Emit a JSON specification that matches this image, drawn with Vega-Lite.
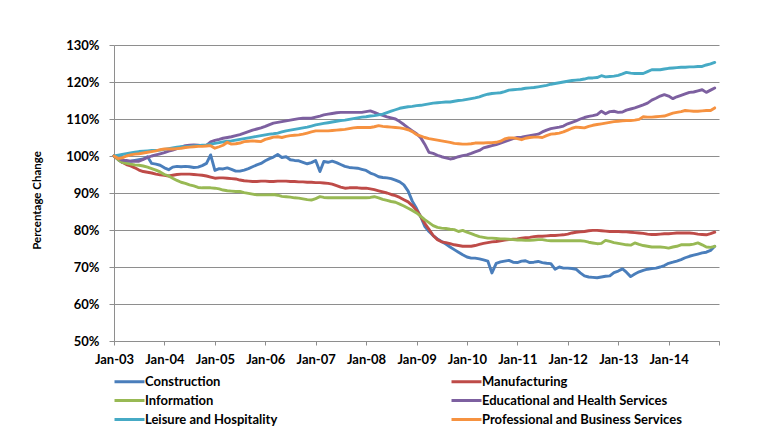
{
"$schema": "https://vega.github.io/schema/vega-lite/v6.json",
"width": 605, "height": 296,
"autosize": {"type": "none"},
"padding": {"left": 114, "top": 45, "right": 46, "bottom": 95},
"background": "white",
"config": {"view": {"stroke": null}, "font": "Lato"},
"data": {"format": {"parse": {"d": "date:'%Y-%m'"}}, "values": [
{"d":"2003-01","C":100,"M":100,"I":100,"E":100,"L":100,"P":100},
{"d":"2003-02","C":99.0,"M":99.1,"I":99.0,"E":99.4,"L":100.2,"P":99.3},
{"d":"2003-03","C":98.3,"M":98.3,"I":98.3,"E":98.9,"L":100.4,"P":99.5},
{"d":"2003-04","C":98.5,"M":97.7,"I":98.0,"E":98.8,"L":100.6,"P":100.0},
{"d":"2003-05","C":98.6,"M":97.3,"I":97.8,"E":98.6,"L":100.8,"P":100.3},
{"d":"2003-06","C":98.8,"M":96.8,"I":97.6,"E":98.6,"L":101.0,"P":100.5},
{"d":"2003-07","C":99.0,"M":96.2,"I":97.5,"E":98.6,"L":101.2,"P":100.6},
{"d":"2003-08","C":99.2,"M":95.8,"I":97.3,"E":99.1,"L":101.3,"P":100.8},
{"d":"2003-09","C":99.8,"M":95.6,"I":97.0,"E":99.6,"L":101.4,"P":101.0},
{"d":"2003-10","C":98.0,"M":95.4,"I":96.6,"E":100.0,"L":101.5,"P":101.2},
{"d":"2003-11","C":97.8,"M":95.1,"I":96.2,"E":100.3,"L":101.5,"P":101.4},
{"d":"2003-12","C":97.5,"M":94.9,"I":95.7,"E":100.6,"L":101.6,"P":101.7},
{"d":"2004-01","C":96.8,"M":94.8,"I":95.0,"E":100.9,"L":101.8,"P":101.9},
{"d":"2004-02","C":96.3,"M":94.6,"I":94.6,"E":101.3,"L":102.0,"P":101.9},
{"d":"2004-03","C":97.0,"M":94.8,"I":94.0,"E":101.6,"L":102.2,"P":101.9},
{"d":"2004-04","C":97.2,"M":95.0,"I":93.4,"E":102.0,"L":102.4,"P":102.0},
{"d":"2004-05","C":97.1,"M":95.1,"I":92.9,"E":102.4,"L":102.5,"P":102.1},
{"d":"2004-06","C":97.2,"M":95.1,"I":92.6,"E":102.8,"L":102.5,"P":102.3},
{"d":"2004-07","C":97.1,"M":95.1,"I":92.2,"E":102.9,"L":102.6,"P":102.4},
{"d":"2004-08","C":96.9,"M":95.0,"I":91.9,"E":103.0,"L":102.7,"P":102.5},
{"d":"2004-09","C":97.0,"M":94.9,"I":91.5,"E":102.9,"L":102.8,"P":102.6},
{"d":"2004-10","C":97.4,"M":94.8,"I":91.4,"E":102.8,"L":102.9,"P":102.6},
{"d":"2004-11","C":98.0,"M":94.6,"I":91.4,"E":102.9,"L":103.0,"P":102.7},
{"d":"2004-12","C":100.3,"M":94.3,"I":91.4,"E":103.8,"L":103.2,"P":102.8},
{"d":"2005-01","C":96.1,"M":94.0,"I":91.3,"E":104.2,"L":103.4,"P":102.1},
{"d":"2005-02","C":96.6,"M":94.1,"I":91.1,"E":104.5,"L":103.6,"P":102.5},
{"d":"2005-03","C":96.5,"M":94.1,"I":90.8,"E":104.8,"L":103.8,"P":102.9},
{"d":"2005-04","C":96.8,"M":94.0,"I":90.6,"E":105.0,"L":104.0,"P":103.7},
{"d":"2005-05","C":96.4,"M":93.9,"I":90.5,"E":105.2,"L":104.1,"P":103.2},
{"d":"2005-06","C":95.9,"M":93.8,"I":90.4,"E":105.5,"L":104.3,"P":103.3},
{"d":"2005-07","C":95.9,"M":93.5,"I":90.4,"E":105.8,"L":104.5,"P":103.5},
{"d":"2005-08","C":96.2,"M":93.3,"I":90.1,"E":106.2,"L":104.7,"P":103.9},
{"d":"2005-09","C":96.6,"M":93.2,"I":89.9,"E":106.6,"L":104.9,"P":104.0},
{"d":"2005-10","C":97.1,"M":93.1,"I":89.7,"E":107.0,"L":105.1,"P":104.1},
{"d":"2005-11","C":97.6,"M":93.1,"I":89.5,"E":107.3,"L":105.3,"P":104.0},
{"d":"2005-12","C":98.0,"M":93.2,"I":89.5,"E":107.6,"L":105.5,"P":103.9},
{"d":"2006-01","C":98.7,"M":93.2,"I":89.5,"E":108.0,"L":105.7,"P":104.5},
{"d":"2006-02","C":99.3,"M":93.1,"I":89.5,"E":108.5,"L":105.9,"P":104.8},
{"d":"2006-03","C":99.7,"M":93.1,"I":89.6,"E":108.9,"L":106.0,"P":105.1},
{"d":"2006-04","C":100.4,"M":93.2,"I":89.4,"E":109.1,"L":106.2,"P":105.2},
{"d":"2006-05","C":99.6,"M":93.2,"I":89.1,"E":109.3,"L":106.5,"P":105.0},
{"d":"2006-06","C":99.8,"M":93.2,"I":89.0,"E":109.5,"L":106.8,"P":105.3},
{"d":"2006-07","C":99.0,"M":93.1,"I":88.9,"E":109.7,"L":107.0,"P":105.5},
{"d":"2006-08","C":98.8,"M":93.1,"I":88.7,"E":109.9,"L":107.2,"P":105.6},
{"d":"2006-09","C":98.7,"M":93.0,"I":88.6,"E":110.1,"L":107.4,"P":105.7},
{"d":"2006-10","C":98.3,"M":93.0,"I":88.4,"E":110.2,"L":107.6,"P":105.9},
{"d":"2006-11","C":97.9,"M":92.9,"I":88.2,"E":110.2,"L":107.8,"P":106.2},
{"d":"2006-12","C":98.2,"M":92.9,"I":88.1,"E":110.2,"L":108.1,"P":106.5},
{"d":"2007-01","C":98.8,"M":92.8,"I":88.5,"E":110.5,"L":108.4,"P":106.8},
{"d":"2007-02","C":95.8,"M":92.8,"I":89.0,"E":110.8,"L":108.6,"P":106.8},
{"d":"2007-03","C":98.5,"M":92.7,"I":88.8,"E":111.1,"L":108.8,"P":106.8},
{"d":"2007-04","C":98.3,"M":92.6,"I":88.7,"E":111.3,"L":109.0,"P":106.8},
{"d":"2007-05","C":98.6,"M":92.4,"I":88.7,"E":111.5,"L":109.2,"P":106.9},
{"d":"2007-06","C":98.2,"M":92.0,"I":88.7,"E":111.7,"L":109.4,"P":107.0},
{"d":"2007-07","C":97.7,"M":91.6,"I":88.7,"E":111.8,"L":109.6,"P":107.1},
{"d":"2007-08","C":97.2,"M":91.3,"I":88.7,"E":111.8,"L":109.7,"P":107.2},
{"d":"2007-09","C":96.9,"M":91.4,"I":88.7,"E":111.8,"L":109.9,"P":107.4},
{"d":"2007-10","C":96.8,"M":91.4,"I":88.7,"E":111.8,"L":110.1,"P":107.6},
{"d":"2007-11","C":96.7,"M":91.4,"I":88.7,"E":111.8,"L":110.3,"P":107.7},
{"d":"2007-12","C":96.4,"M":91.3,"I":88.7,"E":111.8,"L":110.5,"P":107.7},
{"d":"2008-01","C":96.1,"M":91.3,"I":88.7,"E":112.0,"L":110.6,"P":107.7},
{"d":"2008-02","C":95.4,"M":91.1,"I":88.8,"E":112.2,"L":110.8,"P":107.7},
{"d":"2008-03","C":95.0,"M":90.9,"I":89.0,"E":111.8,"L":110.9,"P":107.9},
{"d":"2008-04","C":94.4,"M":90.6,"I":88.7,"E":111.3,"L":111.1,"P":108.2},
{"d":"2008-05","C":94.2,"M":90.3,"I":88.3,"E":111.0,"L":111.3,"P":108.0},
{"d":"2008-06","C":94.1,"M":90.0,"I":88.0,"E":110.6,"L":111.7,"P":107.9},
{"d":"2008-07","C":93.9,"M":89.6,"I":87.7,"E":110.3,"L":112.1,"P":107.8},
{"d":"2008-08","C":93.5,"M":89.3,"I":87.5,"E":110.0,"L":112.5,"P":107.7},
{"d":"2008-09","C":93.0,"M":88.8,"I":87.0,"E":109.3,"L":112.9,"P":107.6},
{"d":"2008-10","C":92.2,"M":88.2,"I":86.5,"E":108.5,"L":113.1,"P":107.4},
{"d":"2008-11","C":90.5,"M":87.6,"I":85.9,"E":107.6,"L":113.3,"P":107.1},
{"d":"2008-12","C":87.8,"M":86.6,"I":85.3,"E":106.8,"L":113.4,"P":106.6},
{"d":"2009-01","C":85.8,"M":85.3,"I":84.6,"E":106.0,"L":113.6,"P":105.8},
{"d":"2009-02","C":83.5,"M":83.6,"I":83.7,"E":104.9,"L":113.7,"P":105.4},
{"d":"2009-03","C":81.0,"M":81.8,"I":82.8,"E":103.2,"L":113.9,"P":105.0},
{"d":"2009-04","C":79.6,"M":80.2,"I":82.0,"E":101.0,"L":114.1,"P":104.7},
{"d":"2009-05","C":78.5,"M":78.5,"I":81.2,"E":100.7,"L":114.3,"P":104.5},
{"d":"2009-06","C":77.6,"M":77.4,"I":80.7,"E":100.2,"L":114.4,"P":104.3},
{"d":"2009-07","C":76.9,"M":76.8,"I":80.5,"E":99.8,"L":114.5,"P":104.1},
{"d":"2009-08","C":76.2,"M":76.6,"I":80.4,"E":99.5,"L":114.6,"P":103.9},
{"d":"2009-09","C":75.4,"M":76.3,"I":80.2,"E":99.2,"L":114.6,"P":103.7},
{"d":"2009-10","C":74.7,"M":76.0,"I":80.1,"E":99.4,"L":114.8,"P":103.4},
{"d":"2009-11","C":74.0,"M":75.8,"I":79.6,"E":99.8,"L":115.0,"P":103.3},
{"d":"2009-12","C":73.3,"M":75.6,"I":79.9,"E":100.1,"L":115.1,"P":103.2},
{"d":"2010-01","C":72.7,"M":75.6,"I":79.4,"E":100.3,"L":115.3,"P":103.2},
{"d":"2010-02","C":72.4,"M":75.6,"I":79.0,"E":100.7,"L":115.5,"P":103.3},
{"d":"2010-03","C":72.4,"M":75.8,"I":78.6,"E":101.1,"L":115.7,"P":103.5},
{"d":"2010-04","C":72.2,"M":76.1,"I":78.2,"E":101.5,"L":116.0,"P":103.5},
{"d":"2010-05","C":71.9,"M":76.4,"I":78.0,"E":102.2,"L":116.4,"P":103.5},
{"d":"2010-06","C":71.6,"M":76.6,"I":77.8,"E":102.5,"L":116.7,"P":103.6},
{"d":"2010-07","C":68.4,"M":76.8,"I":77.8,"E":102.8,"L":116.9,"P":103.6},
{"d":"2010-08","C":71.0,"M":76.9,"I":77.7,"E":103.1,"L":117.0,"P":103.7},
{"d":"2010-09","C":71.4,"M":77.1,"I":77.6,"E":103.5,"L":117.1,"P":104.0},
{"d":"2010-10","C":71.6,"M":77.3,"I":77.6,"E":103.9,"L":117.4,"P":104.6},
{"d":"2010-11","C":71.8,"M":77.4,"I":77.5,"E":104.3,"L":117.8,"P":104.9},
{"d":"2010-12","C":71.3,"M":77.5,"I":77.4,"E":104.7,"L":117.9,"P":104.9},
{"d":"2011-01","C":71.2,"M":77.6,"I":77.3,"E":105.0,"L":118.0,"P":104.7},
{"d":"2011-02","C":71.6,"M":77.8,"I":77.3,"E":105.1,"L":118.1,"P":104.4},
{"d":"2011-03","C":71.7,"M":77.9,"I":77.2,"E":105.3,"L":118.3,"P":104.8},
{"d":"2011-04","C":71.2,"M":78.0,"I":77.2,"E":105.5,"L":118.4,"P":105.0},
{"d":"2011-05","C":71.3,"M":78.2,"I":77.3,"E":105.7,"L":118.5,"P":105.1},
{"d":"2011-06","C":71.5,"M":78.3,"I":77.4,"E":105.9,"L":118.7,"P":105.1},
{"d":"2011-07","C":71.2,"M":78.3,"I":77.4,"E":106.5,"L":118.9,"P":105.0},
{"d":"2011-08","C":71.0,"M":78.4,"I":77.2,"E":107.0,"L":119.1,"P":105.5},
{"d":"2011-09","C":70.9,"M":78.5,"I":77.1,"E":107.4,"L":119.4,"P":105.9},
{"d":"2011-10","C":69.4,"M":78.5,"I":77.1,"E":107.6,"L":119.6,"P":106.0},
{"d":"2011-11","C":70.0,"M":78.6,"I":77.1,"E":107.8,"L":119.8,"P":106.2},
{"d":"2011-12","C":69.7,"M":78.7,"I":77.1,"E":108.1,"L":120.0,"P":106.5},
{"d":"2012-01","C":69.7,"M":78.9,"I":77.1,"E":108.7,"L":120.2,"P":107.0},
{"d":"2012-02","C":69.6,"M":79.2,"I":77.1,"E":109.1,"L":120.4,"P":107.5},
{"d":"2012-03","C":69.4,"M":79.4,"I":77.1,"E":109.5,"L":120.5,"P":107.8},
{"d":"2012-04","C":68.4,"M":79.5,"I":77.1,"E":110.0,"L":120.6,"P":107.7},
{"d":"2012-05","C":67.6,"M":79.6,"I":77.0,"E":110.4,"L":120.8,"P":107.6},
{"d":"2012-06","C":67.3,"M":79.8,"I":76.7,"E":110.7,"L":121.1,"P":108.0},
{"d":"2012-07","C":67.2,"M":79.9,"I":76.5,"E":110.9,"L":121.1,"P":108.3},
{"d":"2012-08","C":67.1,"M":79.9,"I":76.3,"E":111.2,"L":121.2,"P":108.5},
{"d":"2012-09","C":67.3,"M":79.8,"I":76.4,"E":112.1,"L":121.7,"P":108.7},
{"d":"2012-10","C":67.5,"M":79.7,"I":77.2,"E":111.4,"L":121.4,"P":108.9},
{"d":"2012-11","C":67.6,"M":79.6,"I":76.9,"E":112.0,"L":121.5,"P":109.1},
{"d":"2012-12","C":68.5,"M":79.6,"I":76.6,"E":112.1,"L":121.6,"P":109.3},
{"d":"2013-01","C":68.9,"M":79.6,"I":76.4,"E":111.8,"L":121.8,"P":109.4},
{"d":"2013-02","C":69.5,"M":79.5,"I":76.2,"E":111.9,"L":122.2,"P":109.5},
{"d":"2013-03","C":68.6,"M":79.5,"I":76.0,"E":112.4,"L":122.6,"P":109.6},
{"d":"2013-04","C":67.4,"M":79.4,"I":75.9,"E":112.7,"L":122.4,"P":109.6},
{"d":"2013-05","C":68.1,"M":79.3,"I":76.5,"E":113.0,"L":122.3,"P":109.7},
{"d":"2013-06","C":68.7,"M":79.2,"I":76.1,"E":113.4,"L":122.3,"P":109.9},
{"d":"2013-07","C":69.1,"M":79.1,"I":75.8,"E":113.8,"L":122.3,"P":110.6},
{"d":"2013-08","C":69.4,"M":78.9,"I":75.6,"E":114.3,"L":122.8,"P":110.5},
{"d":"2013-09","C":69.6,"M":78.8,"I":75.4,"E":115.1,"L":123.3,"P":110.5},
{"d":"2013-10","C":69.7,"M":78.8,"I":75.4,"E":115.6,"L":123.3,"P":110.6},
{"d":"2013-11","C":70.0,"M":78.9,"I":75.4,"E":116.2,"L":123.3,"P":110.7},
{"d":"2013-12","C":70.4,"M":79.0,"I":75.3,"E":116.6,"L":123.5,"P":110.8},
{"d":"2014-01","C":71.0,"M":79.0,"I":75.1,"E":116.2,"L":123.7,"P":111.2},
{"d":"2014-02","C":71.3,"M":79.1,"I":75.4,"E":115.5,"L":123.8,"P":111.6},
{"d":"2014-03","C":71.6,"M":79.2,"I":75.6,"E":116.0,"L":123.9,"P":111.8},
{"d":"2014-04","C":72.0,"M":79.2,"I":76.0,"E":116.4,"L":124.0,"P":112.0},
{"d":"2014-05","C":72.5,"M":79.2,"I":76.0,"E":116.8,"L":124.0,"P":112.3},
{"d":"2014-06","C":72.9,"M":79.2,"I":76.0,"E":117.2,"L":124.1,"P":112.2},
{"d":"2014-07","C":73.2,"M":79.1,"I":76.2,"E":117.3,"L":124.1,"P":112.1},
{"d":"2014-08","C":73.5,"M":78.9,"I":76.5,"E":117.6,"L":124.2,"P":112.1},
{"d":"2014-09","C":73.8,"M":78.8,"I":76.0,"E":117.9,"L":124.2,"P":112.2},
{"d":"2014-10","C":74.0,"M":78.7,"I":75.4,"E":117.2,"L":124.6,"P":112.3},
{"d":"2014-11","C":74.5,"M":79.0,"I":75.3,"E":117.8,"L":124.9,"P":112.3},
{"d":"2014-12","C":75.6,"M":79.4,"I":75.6,"E":118.4,"L":125.3,"P":113.0}
]},
"transform": [
 {"fold": ["C","M","I","E","L","P"], "as": ["key","value"]},
 {"lookup": "key", "from": {"data": {"values": [
   {"k":"C","name":"Construction"},
   {"k":"M","name":"Manufacturing"},
   {"k":"I","name":"Information"},
   {"k":"E","name":"Educational and Health Services"},
   {"k":"L","name":"Leisure and Hospitality"},
   {"k":"P","name":"Professional and Business Services"}
 ]}, "key": "k", "fields": ["name"]}}
],
"mark": {"type": "line", "strokeWidth": 2.9, "strokeJoin": "round", "strokeCap": "round"},
"encoding": {
 "x": {"field": "d", "type": "temporal",
   "scale": {"domain": [{"year":2003,"month":1,"date":1},{"year":2015,"month":1,"date":1}], "nice": false},
   "axis": {"title": null, "format": "%b-%y", "tickCount": {"interval": "year", "step": 1},
     "labelExpr": "year(datum.value) > 2014 ? '' : datum.label",
     "labelFlush": false, "labelOverlap": false, "grid": false,
     "domainColor": "#8e8e8e", "tickColor": "#8e8e8e", "tickSize": 4, "labelPadding": 8,
     "labelFontSize": 13, "labelFontWeight": "bold", "labelColor": "#000000"}},
 "y": {"field": "value", "type": "quantitative",
   "scale": {"domain": [50,130], "nice": false, "zero": false},
   "axis": {"title": "Percentage Change", "values": [50,60,70,80,90,100,110,120,130],
     "labelExpr": "datum.value + '%'", "grid": true, "gridColor": "#8e8e8e",
     "domainColor": "#8e8e8e", "tickColor": "#8e8e8e", "tickSize": 5, "labelPadding": 10,
     "labelFontSize": 13, "labelFontWeight": "bold", "labelColor": "#000000",
     "titleFontSize": 11.5, "titleFontWeight": "bold", "titleColor": "#000000",
     "titleX": -77, "titleY": 155, "titleAlign": "center", "titleBaseline": "middle", "titleAngle": -90}},
 "color": {"field": "name", "type": "nominal",
   "scale": {"domain": ["Construction","Information","Leisure and Hospitality","Manufacturing","Educational and Health Services","Professional and Business Services"],
     "range": ["#4A7EBB","#98B954","#46AAC5","#BE4B48","#7D60A0","#F69240"]},
   "legend": {"title": null, "orient": "none", "legendX": 9, "legendY": 330, "columns": 2,
     "columnPadding": 167, "rowPadding": 5, "padding": 0,
     "symbolType": "M-3,0H3", "symbolSize": 100, "symbolStrokeWidth": 3,
     "labelOffset": 9, "labelFontSize": 13, "labelFontWeight": "bold", "labelColor": "#000000", "labelLimit": 0}}
}
}
